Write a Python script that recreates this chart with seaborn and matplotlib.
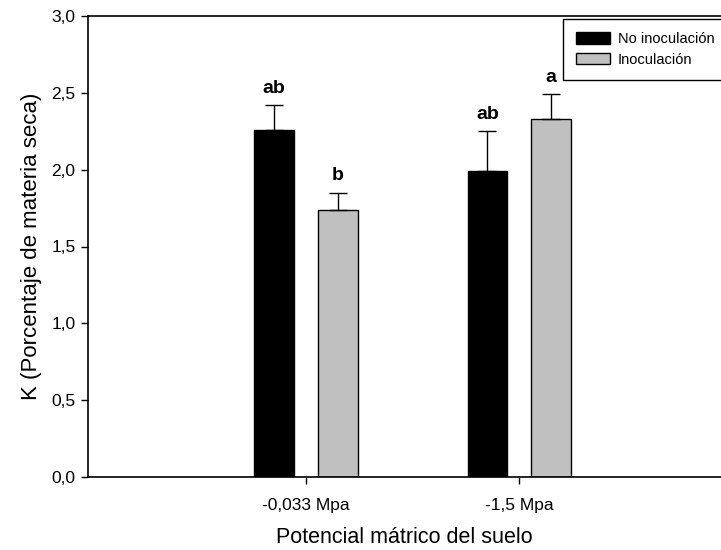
import pandas as pd
import seaborn as sns
import matplotlib.pyplot as plt

# datos
potencial = ['-0,033 Mpa', '-0,033 Mpa', '-1,5 Mpa', '-1,5 Mpa']
tratamiento = ['No inoculación', 'Inoculación', 'No inoculación', 'Inoculación']
k_media = [2.26, 1.74, 1.99, 2.33]
k_error = [0.16, 0.11, 0.26, 0.16]
letras = ['ab', 'b', 'ab', 'a']

categorias = ['-0,033 Mpa', '-1,5 Mpa']
niveles = ['No inoculación', 'Inoculación']
colores = ['#000000', '#c0c0c0']

df = pd.DataFrame({'potencial': potencial, 'tratamiento': tratamiento,
                   'K': k_media, 'err': k_error, 'letra': letras})

sns.set_style('ticks')
plt.rcParams['font.family'] = ['Liberation Sans', 'DejaVu Sans']
plt.rcParams['text.color'] = 'black'
plt.rcParams['axes.labelcolor'] = 'black'

fig = plt.figure(figsize=(7.21, 5.5), dpi=100)
ax = fig.add_axes([88 / 721, 73 / 550, 633 / 721, 461 / 550])

sns.barplot(data=df, x='potencial', y='K', hue='tratamiento', order=categorias,
            hue_order=niveles, palette=colores, errorbar=None, width=0.6, gap=0.383,
            edgecolor='black', linewidth=1, ax=ax)

# barras de error (solo hacia arriba) y letras
for nivel, cont in zip(niveles, ax.containers):
    sub = df[df['tratamiento'] == nivel].set_index('potencial').loc[categorias]
    for bar, (_, fila) in zip(cont, sub.iterrows()):
        xc = bar.get_x() + bar.get_width() / 2
        ax.errorbar(xc, fila['K'], yerr=[[0], [fila['err']]], fmt='none',
                    ecolor='black', elinewidth=1, capsize=6.5, capthick=1)
        ax.annotate(fila['letra'], (xc, fila['K'] + fila['err']), xytext=(0, 6),
                    textcoords='offset points', ha='center', va='bottom',
                    fontsize=14, fontweight='bold')

ax.set_ylim(0, 3.0)
ax.set_xlim(-1.022, 1.946)
ax.set_yticks([0, 0.5, 1.0, 1.5, 2.0, 2.5, 3.0])
ax.set_yticklabels(['0,0', '0,5', '1,0', '1,5', '2,0', '2,5', '3,0'])
ax.tick_params(axis='both', direction='out', length=5, width=1, labelsize=12.5,
               colors='black')
ax.tick_params(axis='x', pad=10)
ax.tick_params(axis='y', pad=4)
ax.spines['right'].set_visible(False)
for s in ax.spines.values():
    s.set_color('black')
    s.set_linewidth(1.2)

ax.set_xlabel('Potencial mátrico del suelo', fontsize=15.5, labelpad=10)
ax.set_ylabel('K (Porcentaje de materia seca)', fontsize=16, labelpad=7)

handles, labels = ax.get_legend_handles_labels()
ax.legend(handles, labels, loc='upper left', bbox_to_anchor=(563 / 721, 1 - 19 / 550),
          bbox_transform=fig.transFigure, borderaxespad=0, fontsize=10.5,
          frameon=True, fancybox=False, edgecolor='black', framealpha=1,
          handlelength=2.3, handleheight=0.85, handletextpad=0.55,
          labelspacing=0.45, borderpad=0.9)
ax.get_legend().get_frame().set_linewidth(1)

fig.savefig('out.png', dpi=100)
